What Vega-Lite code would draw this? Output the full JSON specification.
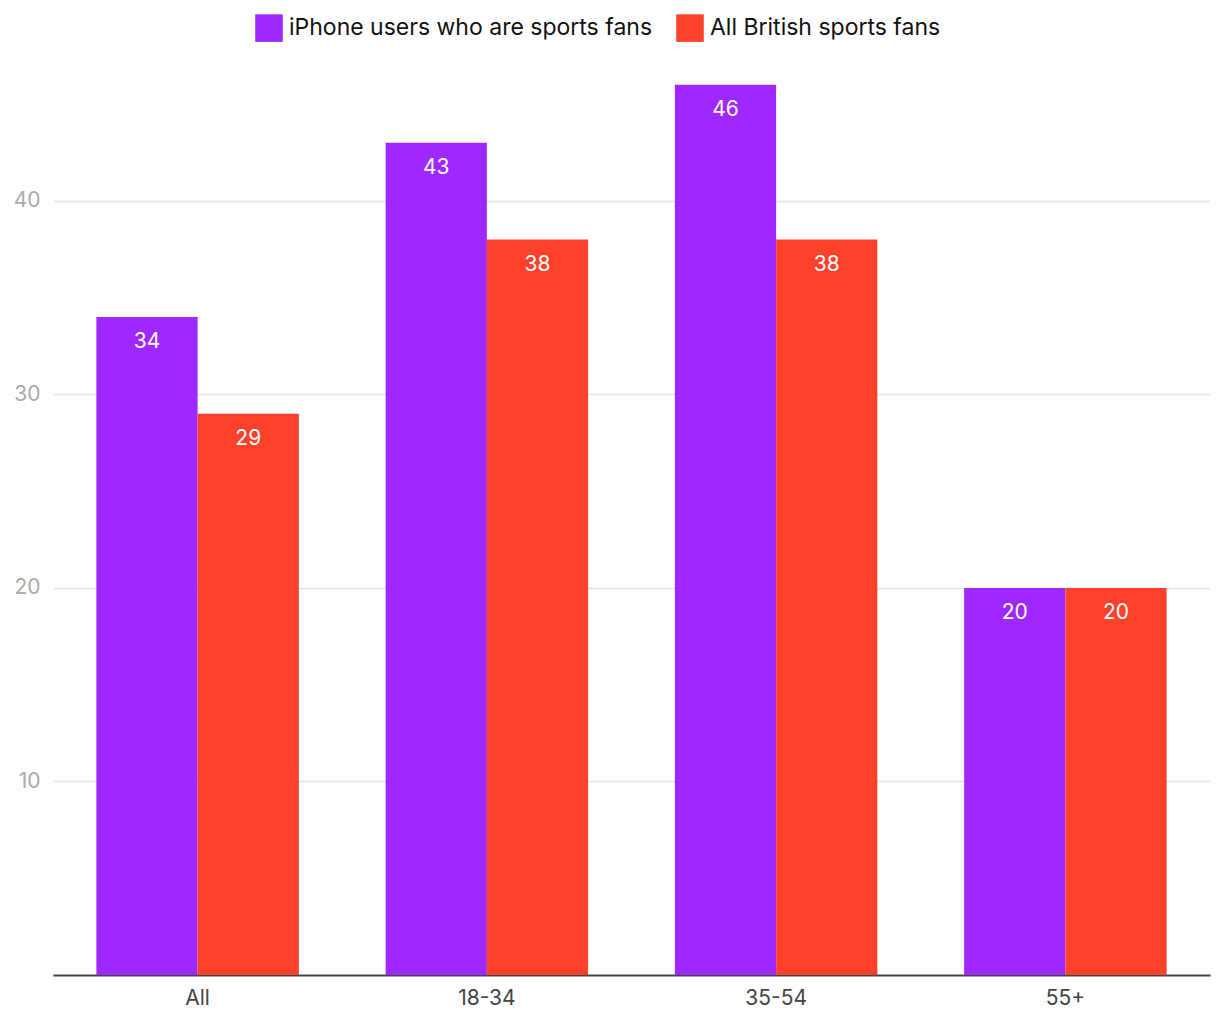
{
  "$schema": "https://vega.github.io/schema/vega-lite/v6.json",
  "autosize": "none",
  "width": 1157,
  "height": 929,
  "padding": {"left": 53, "top": 46, "right": 10, "bottom": 45},
  "background": "white",
  "config": {
    "view": {"stroke": null},
    "font": "Inter"
  },
  "data": {
    "values": [
      {"group": "All", "series": "iPhone users who are sports fans", "value": 34},
      {"group": "All", "series": "All British sports fans", "value": 29},
      {"group": "18-34", "series": "iPhone users who are sports fans", "value": 43},
      {"group": "18-34", "series": "All British sports fans", "value": 38},
      {"group": "35-54", "series": "iPhone users who are sports fans", "value": 46},
      {"group": "35-54", "series": "All British sports fans", "value": 38},
      {"group": "55+", "series": "iPhone users who are sports fans", "value": 20},
      {"group": "55+", "series": "All British sports fans", "value": 20}
    ]
  },
  "encoding": {
    "x": {
      "field": "group", "type": "nominal", "sort": ["All", "18-34", "35-54", "55+"],
      "scale": {"paddingInner": 0.3, "paddingOuter": 0.15},
      "axis": {
        "title": null, "labelAngle": 0, "ticks": false, "domainColor": "#444444", "domainWidth": 2,
        "labelColor": "#444444", "labelFontSize": 21, "labelPadding": 12
      }
    },
    "xOffset": {"field": "series", "type": "nominal", "sort": ["iPhone users who are sports fans", "All British sports fans"]},
    "y": {
      "field": "value", "type": "quantitative",
      "scale": {"domain": [0, 48], "nice": false},
      "axis": {
        "title": null, "values": [10, 20, 30, 40], "ticks": false, "domain": false,
        "gridColor": "#e4e4e4", "gridWidth": 1.5, "labelColor": "#aaaaaa", "labelFontSize": 21, "labelPadding": 13
      }
    }
  },
  "layer": [
    {
      "mark": {"type": "bar"},
      "encoding": {
        "color": {
          "field": "series", "type": "nominal",
          "sort": ["iPhone users who are sports fans", "All British sports fans"],
          "scale": {"domain": ["iPhone users who are sports fans", "All British sports fans"], "range": ["#9E28FF", "#FF412C"]},
          "legend": {
            "title": null, "orient": "none", "direction": "horizontal", "legendX": 202, "legendY": -32,
            "symbolType": "square", "symbolSize": 760, "symbolStrokeWidth": 0, "symbolOpacity": 1,
            "labelFontSize": 23, "labelColor": "#111111", "labelOffset": 6, "columnPadding": 23, "labelLimit": 500
          }
        }
      }
    },
    {
      "mark": {"type": "text", "baseline": "top", "dy": 14, "fontSize": 21, "color": "white"},
      "encoding": {
        "text": {"field": "value", "type": "quantitative"}
      }
    }
  ]
}
